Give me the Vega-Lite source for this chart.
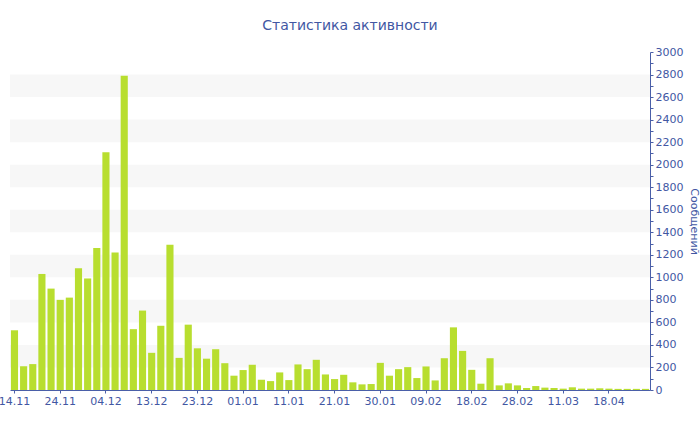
{
  "$schema": "https://vega.github.io/schema/vega-lite/v6.json",
  "width": 640,
  "height": 338,
  "autosize": {"type": "none"},
  "padding": {"left": 10, "top": 52, "right": 50, "bottom": 40},
  "background": "white",
  "config": {
    "font": "DejaVu Sans",
    "view": {"stroke": null},
    "axis": {
      "labelColor": "#4257a3",
      "titleColor": "#4257a3",
      "domainColor": "#4a5fa8",
      "tickColor": "#4a5fa8",
      "labelFont": "DejaVu Sans",
      "labelFontSize": 11,
      "grid": false
    },
    "axisY": {
      "orient": "right",
      "titleFont": "DejaVu Sans",
      "titleFontSize": 11,
      "titleFontWeight": "normal",
      "titlePadding": 6,
      "tickSize": 3,
      "labelPadding": 2,
      "labelOverlap": false,
      "labelFlush": false
    }
  },
  "title": {
    "text": "Статистика активности",
    "font": "DejaVu Sans",
    "fontSize": 14,
    "fontWeight": "normal",
    "color": "#4257a3",
    "anchor": "middle",
    "offset": 13,
    "dx": 20
  },
  "datasets": {
    "stripes": [
      {"lo": 200, "hi": 400},
      {"lo": 600, "hi": 800},
      {"lo": 1000, "hi": 1200},
      {"lo": 1400, "hi": 1600},
      {"lo": 1800, "hi": 2000},
      {"lo": 2200, "hi": 2400},
      {"lo": 2600, "hi": 2800}
    ],
    "activity": [
      {"day": "14.11", "messages": 530},
      {"day": "16.11", "messages": 210},
      {"day": "18.11", "messages": 230},
      {"day": "20.11", "messages": 1030},
      {"day": "22.11", "messages": 900},
      {"day": "24.11", "messages": 800},
      {"day": "26.11", "messages": 820},
      {"day": "28.11", "messages": 1080},
      {"day": "30.11", "messages": 990},
      {"day": "02.12", "messages": 1260},
      {"day": "04.12", "messages": 2110},
      {"day": "06.12", "messages": 1220},
      {"day": "08.12", "messages": 2790},
      {"day": "10.12", "messages": 540},
      {"day": "12.12", "messages": 705},
      {"day": "13.12", "messages": 330},
      {"day": "15.12", "messages": 570},
      {"day": "17.12", "messages": 1290},
      {"day": "19.12", "messages": 285},
      {"day": "21.12", "messages": 580},
      {"day": "23.12", "messages": 370},
      {"day": "25.12", "messages": 278},
      {"day": "27.12", "messages": 362},
      {"day": "29.12", "messages": 238},
      {"day": "31.12", "messages": 127},
      {"day": "01.01", "messages": 177},
      {"day": "03.01", "messages": 224},
      {"day": "05.01", "messages": 91},
      {"day": "07.01", "messages": 79},
      {"day": "09.01", "messages": 156},
      {"day": "11.01", "messages": 88},
      {"day": "13.01", "messages": 227},
      {"day": "15.01", "messages": 185},
      {"day": "17.01", "messages": 268},
      {"day": "19.01", "messages": 138},
      {"day": "21.01", "messages": 97},
      {"day": "23.01", "messages": 135},
      {"day": "25.01", "messages": 68},
      {"day": "27.01", "messages": 50},
      {"day": "29.01", "messages": 53},
      {"day": "30.01", "messages": 241},
      {"day": "01.02", "messages": 127},
      {"day": "03.02", "messages": 185},
      {"day": "05.02", "messages": 203},
      {"day": "07.02", "messages": 106},
      {"day": "09.02", "messages": 209},
      {"day": "11.02", "messages": 85},
      {"day": "13.02", "messages": 282},
      {"day": "15.02", "messages": 556},
      {"day": "17.02", "messages": 347},
      {"day": "18.02", "messages": 179},
      {"day": "20.02", "messages": 56},
      {"day": "22.02", "messages": 282},
      {"day": "24.02", "messages": 41},
      {"day": "26.02", "messages": 59},
      {"day": "28.02", "messages": 41},
      {"day": "02.03", "messages": 18},
      {"day": "04.03", "messages": 35},
      {"day": "06.03", "messages": 21},
      {"day": "08.03", "messages": 18},
      {"day": "11.03", "messages": 12},
      {"day": "15.03", "messages": 24},
      {"day": "22.03", "messages": 12},
      {"day": "29.03", "messages": 12},
      {"day": "05.04", "messages": 15},
      {"day": "18.04", "messages": 12},
      {"day": "23.04", "messages": 10},
      {"day": "28.04", "messages": 10},
      {"day": "05.05", "messages": 10},
      {"day": "12.05", "messages": 10}
    ]
  },
  "encoding": {
    "y": {
      "type": "quantitative",
      "scale": {"domain": [0, 3000], "nice": false},
      "axis": {
        "title": "Сообщений",
        "values": [0, 100, 200, 300, 400, 500, 600, 700, 800, 900, 1000, 1100, 1200, 1300, 1400, 1500, 1600, 1700, 1800, 1900, 2000, 2100, 2200, 2300, 2400, 2500, 2600, 2700, 2800, 2900, 3000],
        "labelExpr": "datum.value % 200 === 0 ? datum.value : ''"
      }
    }
  },
  "layer": [
    {
      "data": {"name": "stripes"},
      "mark": {"type": "rect", "color": "#f7f7f7"},
      "encoding": {
        "y": {"field": "lo", "type": "quantitative"},
        "y2": {"field": "hi"}
      }
    },
    {
      "data": {"name": "activity"},
      "mark": {"type": "bar", "color": "#b8de2f"},
      "encoding": {
        "x": {
          "field": "day",
          "type": "ordinal",
          "sort": null,
          "scale": {"paddingInner": 0.22, "paddingOuter": 0.1},
          "axis": {
            "title": null,
            "values": ["14.11", "24.11", "04.12", "13.12", "23.12", "01.01", "11.01", "21.01", "30.01", "09.02", "18.02", "28.02", "11.03", "18.04"],
            "labelAngle": 0,
            "tickSize": 3,
            "labelPadding": 2,
            "labelOverlap": false
          }
        },
        "y": {"field": "messages", "type": "quantitative"}
      }
    }
  ]
}
